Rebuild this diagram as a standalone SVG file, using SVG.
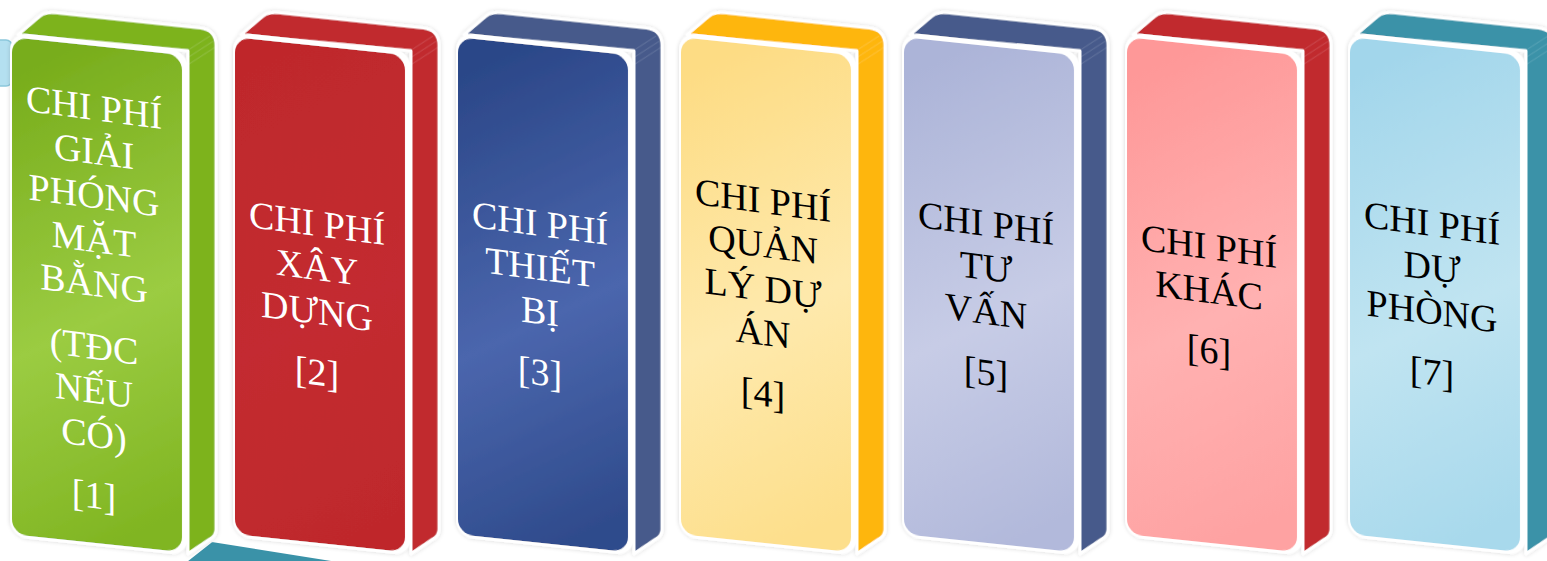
<svg xmlns="http://www.w3.org/2000/svg" width="1547" height="561" viewBox="0 0 1547 561">
<defs>
<style>
.lbl{font-family:"Liberation Serif","Times New Roman",serif;font-size:38px;text-anchor:middle}
.w{fill:#ffffff}
.k{fill:#000000}
.edge{fill:#ffffff}
.side{stroke:#ffffff;stroke-width:3;stroke-linejoin:round}
.pg{stroke:#ffffff;stroke-opacity:0.12;stroke-width:1;fill:none}
</style>
<filter id="sh" x="-15%" y="-10%" width="130%" height="120%">
<feDropShadow dx="0" dy="0" stdDeviation="2" flood-color="#000000" flood-opacity="0.16"/>
</filter>
<linearGradient id="g1" x1="0.4" y1="0" x2="0.6" y2="1"><stop offset="0" stop-color="#78ad1c"/><stop offset="0.55" stop-color="#9bcc42"/><stop offset="1" stop-color="#80b522"/></linearGradient>
<linearGradient id="g2" x1="0.4" y1="0" x2="0.6" y2="1"><stop offset="0" stop-color="#bf282c"/><stop offset="0.55" stop-color="#c32c30"/><stop offset="1" stop-color="#bf282c"/></linearGradient>
<linearGradient id="g3" x1="0.4" y1="0" x2="0.6" y2="1"><stop offset="0" stop-color="#2b4788"/><stop offset="0.55" stop-color="#4b66ad"/><stop offset="1" stop-color="#2f4b8c"/></linearGradient>
<linearGradient id="g4" x1="0.4" y1="0" x2="0.6" y2="1"><stop offset="0" stop-color="#fddc84"/><stop offset="0.55" stop-color="#fee9ac"/><stop offset="1" stop-color="#fddf8c"/></linearGradient>
<linearGradient id="g5" x1="0.4" y1="0" x2="0.6" y2="1"><stop offset="0" stop-color="#acb4d8"/><stop offset="0.55" stop-color="#c7cce6"/><stop offset="1" stop-color="#b2b9db"/></linearGradient>
<linearGradient id="g6" x1="0.4" y1="0" x2="0.6" y2="1"><stop offset="0" stop-color="#fe9898"/><stop offset="0.55" stop-color="#ffb1b1"/><stop offset="1" stop-color="#fea2a2"/></linearGradient>
<linearGradient id="g7" x1="0.4" y1="0" x2="0.6" y2="1"><stop offset="0" stop-color="#a2d6eb"/><stop offset="0.55" stop-color="#c0e4f1"/><stop offset="1" stop-color="#a8d9ec"/></linearGradient>
</defs>

<g id="background-pieces">
<rect x="-20" y="40" width="32" height="46" rx="6" fill="#b4e0f0" stroke="#8cc8dc" stroke-width="1.5"/>
<polygon points="184,563 212,541 350,563" fill="#3a92a8" stroke="#ffffff" stroke-width="2"/>
</g>

<g id="connectors"/>

<g id="node1" transform="translate(10,0)">
<g transform="translate(0,32) skewY(6)" filter="url(#sh)">
<path class="side" fill="#7db31e" d="M8,2 L30,-19 Q35,-24 46,-24 L190,-24 Q206,-24 206,-8 L206,476 Q206,482 200,486 L178,503 L178,0 Z"/>
<path class="pg" d="M172,4 L200,-17 M175,9 L203,-12 M178,14 L206,-7"/>
<rect class="edge" x="0" y="0" width="178" height="505" rx="18"/>
<rect fill="url(#g1)" x="2" y="5" width="170" height="497" rx="15"/>
</g>
<g class="lbl w" transform="translate(84,0) skewY(7.5)">
<text y="120">CHI PHÍ</text>
<text y="164">GIẢI</text>
<text y="208">PHÓNG</text>
<text y="252">MẶT</text>
<text y="296">BẰNG</text>
<text y="359">(TĐC</text>
<text y="403">NẾU</text>
<text y="447">CÓ)</text>
<text y="508">[1]</text>
</g>
</g>

<g id="node2" transform="translate(233,0)">
<g transform="translate(0,32) skewY(6)" filter="url(#sh)">
<path class="side" fill="#c1292e" d="M8,2 L30,-19 Q35,-24 46,-24 L190,-24 Q206,-24 206,-8 L206,476 Q206,482 200,486 L178,503 L178,0 Z"/>
<path class="pg" d="M172,4 L200,-17 M175,9 L203,-12 M178,14 L206,-7"/>
<rect class="edge" x="0" y="0" width="178" height="505" rx="18"/>
<rect fill="url(#g2)" x="2" y="5" width="170" height="497" rx="15"/>
</g>
<g class="lbl w" transform="translate(84,0) skewY(7.5)">
<text y="236">CHI PHÍ</text>
<text y="280">XÂY</text>
<text y="324">DỰNG</text>
<text y="385">[2]</text>
</g>
</g>

<g id="node3" transform="translate(456,0)">
<g transform="translate(0,32) skewY(6)" filter="url(#sh)">
<path class="side" fill="#465a8b" d="M8,2 L30,-19 Q35,-24 46,-24 L190,-24 Q206,-24 206,-8 L206,476 Q206,482 200,486 L178,503 L178,0 Z"/>
<path class="pg" d="M172,4 L200,-17 M175,9 L203,-12 M178,14 L206,-7"/>
<rect class="edge" x="0" y="0" width="178" height="505" rx="18"/>
<rect fill="url(#g3)" x="2" y="5" width="170" height="497" rx="15"/>
</g>
<g class="lbl w" transform="translate(84,0) skewY(7.5)">
<text y="236">CHI PHÍ</text>
<text y="280">THIẾT</text>
<text y="324">BỊ</text>
<text y="385">[3]</text>
</g>
</g>

<g id="node4" transform="translate(679,0)">
<g transform="translate(0,32) skewY(6)" filter="url(#sh)">
<path class="side" fill="#feb610" d="M8,2 L30,-19 Q35,-24 46,-24 L190,-24 Q206,-24 206,-8 L206,476 Q206,482 200,486 L178,503 L178,0 Z"/>
<path class="pg" d="M172,4 L200,-17 M175,9 L203,-12 M178,14 L206,-7"/>
<rect class="edge" x="0" y="0" width="178" height="505" rx="18"/>
<rect fill="url(#g4)" x="2" y="5" width="170" height="497" rx="15"/>
</g>
<g class="lbl k" transform="translate(84,0) skewY(7.5)">
<text y="213">CHI PHÍ</text>
<text y="257">QUẢN</text>
<text y="301">LÝ DỰ</text>
<text y="345">ÁN</text>
<text y="406">[4]</text>
</g>
</g>

<g id="node5" transform="translate(902,0)">
<g transform="translate(0,32) skewY(6)" filter="url(#sh)">
<path class="side" fill="#465a8b" d="M8,2 L30,-19 Q35,-24 46,-24 L190,-24 Q206,-24 206,-8 L206,476 Q206,482 200,486 L178,503 L178,0 Z"/>
<path class="pg" d="M172,4 L200,-17 M175,9 L203,-12 M178,14 L206,-7"/>
<rect class="edge" x="0" y="0" width="178" height="505" rx="18"/>
<rect fill="url(#g5)" x="2" y="5" width="170" height="497" rx="15"/>
</g>
<g class="lbl k" transform="translate(84,0) skewY(7.5)">
<text y="236">CHI PHÍ</text>
<text y="280">TƯ</text>
<text y="324">VẤN</text>
<text y="385">[5]</text>
</g>
</g>

<g id="node6" transform="translate(1125,0)">
<g transform="translate(0,32) skewY(6)" filter="url(#sh)">
<path class="side" fill="#c1292e" d="M8,2 L30,-19 Q35,-24 46,-24 L190,-24 Q206,-24 206,-8 L206,476 Q206,482 200,486 L178,503 L178,0 Z"/>
<path class="pg" d="M172,4 L200,-17 M175,9 L203,-12 M178,14 L206,-7"/>
<rect class="edge" x="0" y="0" width="178" height="505" rx="18"/>
<rect fill="url(#g6)" x="2" y="5" width="170" height="497" rx="15"/>
</g>
<g class="lbl k" transform="translate(84,0) skewY(7.5)">
<text y="259">CHI PHÍ</text>
<text y="303">KHÁC</text>
<text y="363">[6]</text>
</g>
</g>

<g id="node7" transform="translate(1348,0)">
<g transform="translate(0,32) skewY(6)" filter="url(#sh)">
<path class="side" fill="#3a92a8" d="M8,2 L30,-19 Q35,-24 46,-24 L190,-24 Q206,-24 206,-8 L206,476 Q206,482 200,486 L178,503 L178,0 Z"/>
<path class="pg" d="M172,4 L200,-17 M175,9 L203,-12 M178,14 L206,-7"/>
<rect class="edge" x="0" y="0" width="178" height="505" rx="18"/>
<rect fill="url(#g7)" x="2" y="5" width="170" height="497" rx="15"/>
</g>
<g class="lbl k" transform="translate(84,0) skewY(7.5)">
<text y="236">CHI PHÍ</text>
<text y="280">DỰ</text>
<text y="324">PHÒNG</text>
<text y="385">[7]</text>
</g>
</g>
</svg>
